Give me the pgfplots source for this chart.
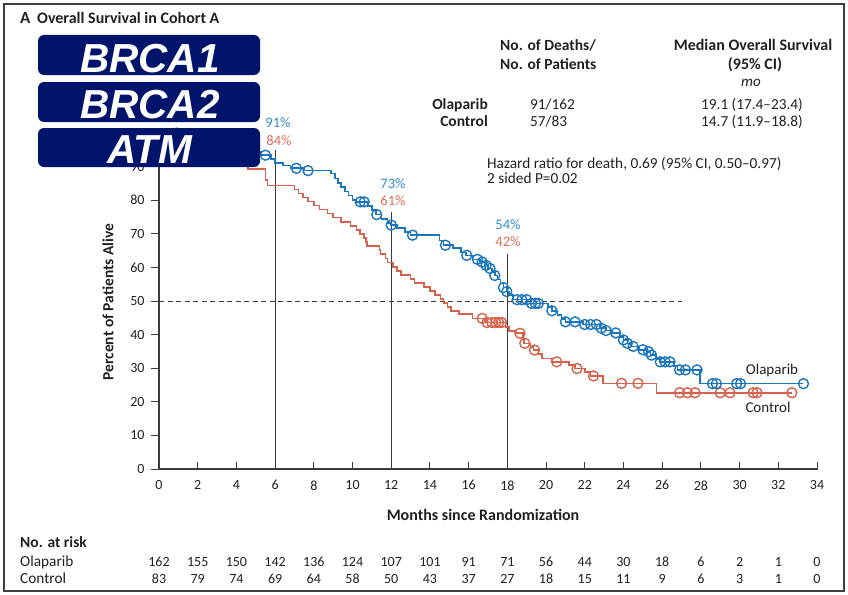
\documentclass[border=0pt]{standalone}
\usepackage{pgfplots}
\pgfplotsset{compat=1.18}
\usepackage{fontspec}
\setmainfont{Carlito}
\newfontfamily\boxfont{Liberation Sans}
\definecolor{olablue}{RGB}{28,118,188}
\definecolor{ctlred}{RGB}{212,98,76}
\definecolor{olatxt}{RGB}{50,140,200}
\definecolor{ctltxt}{RGB}{222,110,90}
\definecolor{navybox}{RGB}{0,20,108}
\definecolor{txt}{RGB}{35,31,32}
\definecolor{axc}{RGB}{60,60,60}
\newcommand\fs[1]{\fontsize{#1}{#1}\selectfont}
\begin{document}
\begin{tikzpicture}
\useasboundingbox (0pt,0pt) rectangle (848pt,-594pt);
\draw[line width=1.3pt, black!75] (4pt,-4pt) rectangle (844pt,-591pt);
\begin{axis}[
  at={(159pt,-469pt)}, anchor=south west,
  scale only axis, width=658pt, height=336pt,
  xmin=0, xmax=34, ymin=0, ymax=100,
  clip=false,
  axis lines=left, axis line style={-, line width=1.1pt, axc},
  xtick={0,2,...,34}, ytick={0,10,...,100},
  tick align=outside, major tick length=8pt,
  tick style={line width=1pt, axc},
  xtick style={yshift=7pt},
  /pgf/number format/assume math mode=true,
  ticklabel style={font=\fs{14}, text=txt},
  yticklabel style={xshift=-3pt},
]
% reference lines
\addplot[axc, line width=1pt, dash pattern=on 5pt off 3.5pt] coordinates {(0,50) (27,50)};
\addplot[axc, line width=1.1pt] coordinates {(6,0) (6,95)};
\addplot[axc, line width=1.1pt] coordinates {(12,0) (12,76.5)};
\addplot[axc, line width=1.1pt] coordinates {(18,0) (18,64)};
% Control
\addplot[const plot, ctlred, line width=1.6pt] coordinates {
(0,100) (1.5,98.8) (2.2,97.6) (2.8,96.4) (3.2,95.2) (3.6,94.0) (3.9,92.8) (4.2,91.6) (4.6,89.3)
(5.5,86.0) (5.6,84.4) (7.0,83.2) (7.2,82.0) (7.45,80.8) (7.7,79.6) (8.0,78.4) (8.3,77.2)
(8.7,76.0) (9.0,74.8) (9.4,73.6) (9.9,72.4) (10.2,71.2) (10.4,69.9) (10.6,68.7) (10.7,67.5)
(10.75,66.3) (11.4,65.1) (11.45,63.9) (11.7,62.7) (11.8,61.4) (12.1,60.2) (12.3,59.0)
(12.5,57.8) (13.0,56.6) (13.2,55.4) (13.7,54.2) (14.0,53.0) (14.25,51.8) (14.55,50.6)
(14.7,49.4) (14.9,48.2) (15.1,47.0) (15.5,46.2) (16.2,44.8) (16.85,43.6) (17.9,42.2)
(18.1,41.0) (18.4,40.4) (18.8,38.6) (18.85,37.4) (19.2,36.4) (19.35,35.4) (19.6,34.2)
(19.8,32.9) (20.3,31.9) (21.2,30.9) (21.5,29.9) (22.0,28.8) (22.3,27.7) (22.95,25.5)
(25.7,22.7) (32.7,22.7)};
\addplot[only marks, mark=o, mark size=5pt, ctlred, mark options={line width=1.4pt}] coordinates {
(0.9,100) (16.7,44.8) (16.95,43.6) (17.2,43.6) (17.4,43.6) (17.55,43.6) (17.7,43.6)
(18.65,40.4) (18.9,37.4) (19.4,35.4) (20.55,31.9) (21.6,29.9) (22.45,27.7)
(23.9,25.5) (24.75,25.5) (26.9,22.7) (27.3,22.7) (27.7,22.7) (29.0,22.7) (29.5,22.7)
(30.7,22.7) (30.9,22.7) (32.7,22.7)};
% Olaparib
\addplot[const plot, olablue, line width=1.6pt] coordinates {
(0,100) (1.0,99.4) (1.8,98.8) (2.5,98.1) (3.0,97.5) (3.5,96.9) (4.0,96.2) (4.5,95.0)
(5.0,94.4) (5.3,93.4) (5.8,92.2) (6.0,91.0) (6.4,90.3) (6.8,89.5) (7.5,88.8) (8.9,87.9)
(9.1,86.5) (9.25,85.2) (9.4,83.9) (9.6,82.6) (9.8,81.4) (10.0,80.1) (10.2,79.5) (10.8,78.3)
(11.0,77.0) (11.2,75.7) (11.5,74.4) (11.8,73.2) (12.0,72.6) (12.3,71.7) (12.7,70.6)
(13.0,69.6) (14.5,68.0) (14.7,66.6) (15.2,65.8) (15.6,64.4) (15.85,63.6) (16.2,62.4)
(16.6,61.6) (16.85,60.6) (17.0,59.7) (17.2,58.6) (17.35,57.6) (17.5,56.4) (17.65,55.2)
(17.8,54.0) (17.95,52.8) (18.1,51.7) (18.3,50.4) (19.2,49.3) (20.1,48.2) (20.3,47.1)
(20.6,45.9) (20.8,44.7) (21.0,43.8) (21.9,43.0) (22.8,41.9) (23.1,41.2) (23.4,40.5)
(23.8,39.3) (24.0,38.4) (24.2,37.4) (24.4,36.5) (24.8,35.5) (25.2,34.9) (25.4,33.9)
(25.7,32.8) (25.9,31.9) (26.6,30.7) (26.8,29.5) (27.95,25.4) (33.3,25.4)};
\addplot[only marks, mark=o, mark size=5pt, olablue, mark options={line width=1.4pt}] coordinates {
(5.5,93.4) (7.1,89.5) (7.7,88.8) (10.4,79.5) (10.6,79.5) (11.25,75.7) (12.0,72.6)
(13.1,69.6) (14.8,66.6) (15.9,63.6) (16.45,62.4) (16.7,61.6) (16.9,60.6) (17.1,59.7)
(17.35,57.6) (17.8,54.0) (17.97,52.8) (18.5,50.4) (18.75,50.4) (19.0,50.4) (19.25,49.3)
(19.45,49.3) (19.6,49.3) (20.3,47.1) (21.0,43.8) (21.5,43.8) (22.0,43.0) (22.3,43.0)
(22.6,43.0) (22.85,41.9) (23.1,41.2) (23.6,40.5) (24.0,38.4) (24.2,37.4) (24.5,36.5)
(25.0,35.5) (25.3,34.9) (25.45,33.9) (25.9,31.9) (26.15,31.9) (26.4,31.9) (26.9,29.5)
(27.2,29.5) (27.8,29.5) (28.6,25.4) (28.8,25.4) (29.85,25.4) (30.05,25.4) (33.3,25.4)};
\end{axis}
% axis labels
\node[rotate=90, font=\fs{15.5}\bfseries, text=txt] at (108pt,-302pt) {Percent of Patients Alive};
\node[font=\fs{16}\bfseries, text=txt] at (483pt,-515pt) {Months since Randomization};
% percent labels
\node[font=\fs{14.5}, text=olatxt] at (278pt,-123pt) {91\%};
\node[font=\fs{14.5}, text=ctltxt] at (279pt,-141pt) {84\%};
\node[font=\fs{14.5}, text=olatxt] at (393pt,-184pt) {73\%};
\node[font=\fs{14.5}, text=ctltxt] at (393pt,-201pt) {61\%};
\node[font=\fs{14.5}, text=olatxt] at (508pt,-225pt) {54\%};
\node[font=\fs{14.5}, text=ctltxt] at (508pt,-242pt) {42\%};
% curve labels
\node[font=\fs{15}, text=txt] at (772pt,-370pt) {Olaparib};
\node[font=\fs{15}, text=txt] at (768pt,-407pt) {Control};
% title
\node[anchor=base west, font=\fs{17}\bfseries, text=txt, inner sep=0pt] at (20pt,-24pt) {A};
\node[anchor=base west, font=\fs{16}\bfseries, text=txt, inner sep=0pt] at (37pt,-24pt) {Overall Survival in Cohort A};
% info block
\begin{scope}[every node/.style={inner sep=0pt, text=txt, font=\fs{15.3}}]
\node[anchor=base west, font=\fs{15.5}\bfseries] at (500pt,-50.7pt) {No. of Deaths/};
\node[anchor=base west, font=\fs{15.5}\bfseries] at (500pt,-69.3pt) {No. of Patients};
\node[anchor=base, font=\fs{16}\bfseries] at (753pt,-50.7pt) {Median Overall Survival};
\node[anchor=base, font=\fs{16}\bfseries] at (755pt,-69.3pt) {(95\% CI)};
\node[anchor=base, font=\fs{15}\itshape] at (751pt,-86pt) {mo};
\node[anchor=base east, font=\fs{15.5}\bfseries] at (488pt,-109.3pt) {Olaparib};
\node[anchor=base east, font=\fs{15.5}\bfseries] at (488pt,-126.7pt) {Control};
\node[anchor=base west] at (530pt,-109.3pt) {91/162};
\node[anchor=base west] at (530pt,-126.7pt) {57/83};
\node[anchor=base] at (752pt,-109.3pt) {19.1 (17.4--23.4)};
\node[anchor=base] at (752pt,-126.7pt) {14.7 (11.9--18.8)};
\node[anchor=base west] at (487pt,-168.3pt) {Hazard ratio for death, 0.69 (95\% CI, 0.50--0.97)};
\node[anchor=base west] at (487pt,-183.3pt) {2 sided P=0.02};
% risk table
\node[anchor=base west, font=\fs{15.5}\bfseries] at (20pt,-547pt) {No. at risk};
\node[anchor=base west] at (20pt,-566pt) {Olaparib};
\node[anchor=base west] at (20pt,-583pt) {Control};
\foreach \v [count=\i from 0] in {162,155,150,142,136,124,107,101,91,71,56,44,30,18,6,2,1,0}
  \node[anchor=base, font=\fs{14}] at ({159pt+38.706pt*\i},-566pt) {\v};
\foreach \v [count=\i from 0] in {83,79,74,69,64,58,50,43,37,27,18,15,11,9,6,3,1,0}
  \node[anchor=base, font=\fs{14}] at ({159pt+38.706pt*\i},-583pt) {\v};
\end{scope}
% overlay boxes
\begin{scope}[every node/.style={anchor=base, inner sep=0pt, text=white, font=\boxfont\bfseries\itshape\fs{40.5}}]
\fill[navybox, rounded corners=6pt] (38pt,-35pt) rectangle (260pt,-75pt);
\node at (150pt,-72pt) {BRCA1};
\fill[navybox, rounded corners=6pt] (38pt,-82pt) rectangle (260pt,-122pt);
\node at (150pt,-118pt) {BRCA2};
\fill[navybox, rounded corners=6pt] (38pt,-128pt) rectangle (260pt,-167pt);
\node at (150pt,-163pt) {ATM};
\end{scope}
\end{tikzpicture}
\end{document}
